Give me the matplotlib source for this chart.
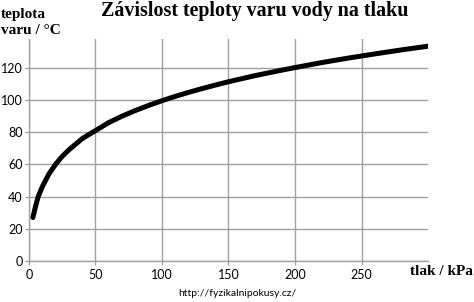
import numpy as np
import matplotlib
matplotlib.use('Agg')
import matplotlib.pyplot as plt

# tlak (kPa) a teplota varu (°C)
tlak = [3, 5, 7, 10, 15, 20, 25, 30, 40, 50, 60, 70, 80, 90, 100,
        110, 120, 130, 140, 150, 160, 170, 180, 190, 200, 220, 240,
        260, 280, 300]
teplota = [27, 34, 40, 46, 54, 60, 65, 69, 76, 81, 86, 90, 93.5, 96.7, 99.6,
           102.3, 104.8, 107.1, 109.3, 111.4, 113.3, 115.2, 116.9, 118.6, 120.2,
           123.3, 126.1, 128.7, 131.2, 133.5]

xticks = [0, 50, 100, 150, 200, 250]
yticks = [0, 20, 40, 60, 80, 100, 120]

serif = ['Liberation Serif', 'DejaVu Serif']
sans = ['Lato', 'DejaVu Sans']

fig = plt.figure(figsize=(4.74, 3.02), dpi=100)
ax = fig.add_axes([0.061, 0.136, 0.842, 0.735])

ax.plot(tlak, teplota, color='black', lw=3.6, solid_capstyle='round', zorder=3)

ax.set_xlim(0, 300)
ax.set_ylim(0, 138)
ax.set_xticks(xticks)
ax.set_yticks(yticks)
ax.grid(True, color='#a0a0a0', lw=1)
for s in ['top', 'right']:
    ax.spines[s].set_visible(False)
for s in ['left', 'bottom']:
    ax.spines[s].set_color('#a0a0a0')
    ax.spines[s].set_linewidth(1)
ax.tick_params(colors='#a0a0a0', labelcolor='black', length=3, width=1,
               labelsize=9)
ax.tick_params(axis='y', pad=1.5)
ax.tick_params(axis='x', pad=3)
for lab in ax.get_xticklabels() + ax.get_yticklabels():
    lab.set_family(sans)

fig.text(0.538, 0.965, 'Závislost teploty varu vody na tlaku', ha='center',
         va='center', fontsize=14.4, fontweight='bold', family=serif)
fig.text(0.002, 0.925, 'teplota\nvaru / °C', ha='left', va='center',
         fontsize=11, fontweight='bold', family=serif, linespacing=1.25)
fig.text(0.998, 0.1, 'tlak / kPa', ha='right', va='center',
         fontsize=11, fontweight='bold', family=serif)
fig.text(0.5, 0.028, 'http://fyzikalnipokusy.cz/', ha='center', va='center',
         fontsize=7.5, family=sans)

fig.savefig('out.png', dpi=100)
